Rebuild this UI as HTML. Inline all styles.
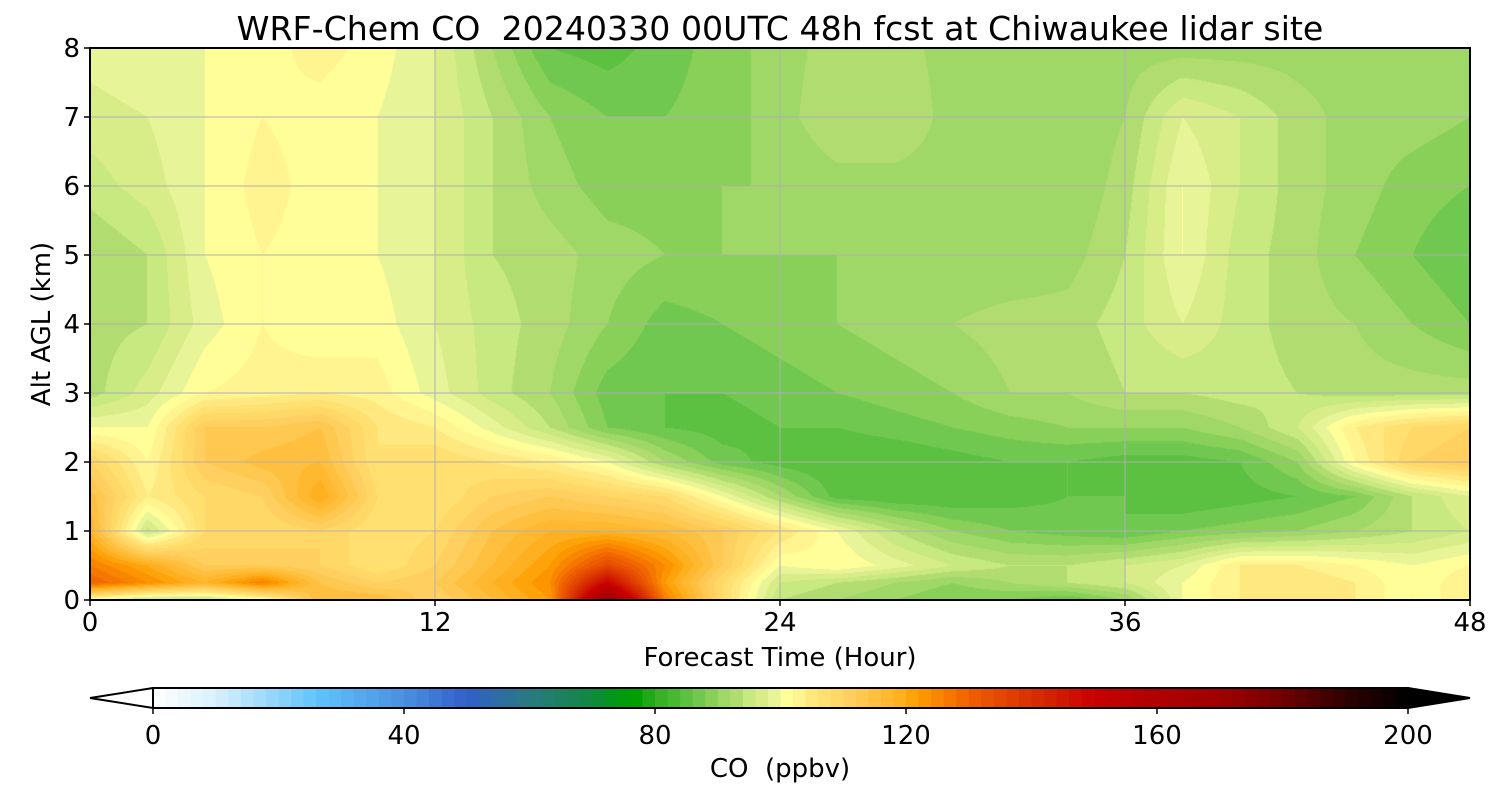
<!DOCTYPE html>
<html><head><meta charset="utf-8"><style>
body{margin:0;background:#fff;width:1500px;height:800px;overflow:hidden;font-family:"DejaVu Sans",sans-serif;}
#wrap{position:relative;width:1500px;height:800px;}
canvas{position:absolute;left:90px;top:48px;}
svg{position:absolute;left:0;top:0;}
text{white-space:pre;}
</style></head><body>
<div id="wrap">
<canvas id="cv" width="1380" height="552"></canvas>
<svg id="sv" width="1500" height="800"></svg>
</div>
<script>
const times=[0,2,4,6,8,10,12,14,16,18,20,22,24,26,28,30,32,34,36,38,40,42,44,46,48];
const heights=[0,0.25,0.5,1,1.5,2,2.5,3,4,5,6,7,8];
const row_h0   =[100,94,94,100,116,116,110,116,122,170,126,108,94,92,90,88,88,86,90,100,104,104,104,100,104];
const row_h025 =[130,124,118,126,114,110,112,118,124,150,122,108,96,94,92,90,92,94,96,100,104,106,104,100,104];
const row_h05  =[126,120,112,112,110,106,110,116,122,135,124,112,100,102,99,96,94,94,96,98,104,104,102,100,102];
const row_h1   =[118,95,108,108,110,106,108,114,118,118,116,112,106,100,94,90,88,87,86,88,89,90,92,94,96];
const row_h15  =[115,104,108,110,120,108,106,110,112,110,108,100,92,85,84,84,85,86,86,84,85,86,88,94,98];
const row_h2   =[110,102,112,115,116,106,108,106,104,100,92,87,85,84,84,85,86,86,85,85,86,90,102,110,112];
const row_h25  =[100,100,112,112,114,106,104,99,94,88,86,85,86,86,87,88,89,90,90,90,92,96,104,108,110];
const row_h3   =[93,97,102,103,104,103,99,95,92,87,86,86,87,88,89,90,92,92,94,94,95,94,93,93,93];
const row_h4   =[93,94,99,102,100,101,98,95,93,90,87,88,89,90,91,92,93,93,95,98,95,93,92,90,88];
const row_h5   =[92,94,100,102,101,100,98,94,93,91,90,90,90,90,90,90,90,91,94,100,95,93,90,88,86];
const row_h6   =[95,97,100,103,101,100,98,94,91,89,89,90,90,91,91,91,90,90,93,100,96,93,91,89,88];
const row_h7   =[97,98,100,102,101,100,98,94,90,88,88,89,91,94,94,91,91,90,92,98,96,93,91,91,90];
const row_h8   =[99,100,100,101,103,101,98,92,86,85,87,89,91,93,93,91,90,90,91,91,91,91,91,90,90];
const field=[row_h0,row_h025,row_h05,row_h1,row_h15,row_h2,row_h25,row_h3,row_h4,row_h5,row_h6,row_h7,row_h8];
const xTicks=[0,12,24,36,48];
const yTicks=[0,1,2,3,4,5,6,7,8];
const cbTicks=[0,40,80,120,160,200];

const stops=[[0,[255,255,255]],[10,[216,240,252]],[26,[96,196,252]],[40,[74,144,224]],[50,[48,96,200]],[60,[42,122,128]],[70,[16,136,64]],[74,[0,154,16]],[77,[0,160,0]],[79,[32,168,24]],[81,[56,176,40]],[83,[72,184,48]],[85,[92,192,64]],[87,[112,200,80]],[89,[136,208,88]],[91,[160,216,104]],[93,[176,220,112]],[95,[200,232,128]],[97,[216,236,136]],[99,[232,244,152]],[101,[255,254,152]],[103,[255,244,144]],[105,[255,232,128]],[107,[255,224,112]],[109,[255,216,104]],[111,[255,208,96]],[113,[255,200,80]],[115,[255,192,64]],[117,[255,184,48]],[119,[255,176,32]],[122,[255,156,0]],[130,[240,96,0]],[140,[216,48,0]],[150,[200,0,0]],[160,[176,0,0]],[170,[160,0,0]],[180,[112,0,0]],[190,[48,0,0]],[200,[0,0,0]]];
function cmap(v){if(v<=0)return stops[0][1];if(v>=200)return [0,0,0];
for(let i=1;i<stops.length;i++){if(v<=stops[i][0]){const a=stops[i-1],b=stops[i],f=(v-a[0])/(b[0]-a[0]);return a[1].map((c,k)=>Math.round(c+(b[1][k]-c)*f));}}return [0,0,0];}
function lv(v){return cmap(Math.floor(v/2)*2+1);}

const X0=90,X1=1470,Y0=48,Y1=600;
const xs=t=>X0+(t-times[0])/(times[times.length-1]-times[0])*(X1-X0);
const ys=h=>Y1-(h-heights[0])/(heights[heights.length-1]-heights[0])*(Y1-Y0);
function seg(arr,v){for(let i=0;i<arr.length-1;i++)if(v<=arr[i+1])return i;return arr.length-2;}
function sample(t,h){const i=seg(times,t),j=seg(heights,h);
const fx=(t-times[i])/(times[i+1]-times[i]),fy=(h-heights[j])/(heights[j+1]-heights[j]);
const a=field[j][i],b=field[j][i+1],c=field[j+1][i],d=field[j+1][i+1];
return (a*(1-fx)+b*fx)*(1-fy)+(c*(1-fx)+d*fx)*fy;}

const cv=document.getElementById('cv'),ctx=cv.getContext('2d');
const img=ctx.createImageData(1380,552);
for(let py=0;py<552;py++){const h=(Y1-(Y0+py+0.5))/(Y1-Y0)*(heights[heights.length-1]-heights[0])+heights[0];
for(let px=0;px<1380;px++){const t=(px+0.5)/(X1-X0)*(times[times.length-1]-times[0])+times[0];
const c=lv(sample(t,h));const k=(py*1380+px)*4;img.data[k]=c[0];img.data[k+1]=c[1];img.data[k+2]=c[2];img.data[k+3]=255;}}
ctx.putImageData(img,0,0);

const sv=document.getElementById('sv');const NS='http://www.w3.org/2000/svg';
function el(tag,attrs,parent){const e=document.createElementNS(NS,tag);for(const k in attrs)e.setAttribute(k,attrs[k]);(parent||sv).appendChild(e);return e;}
function txt(x,y,s,size,anchor,name,extra){const t=el('text',Object.assign({x:x,y:y,'font-size':size,'text-anchor':anchor||'middle','font-family':'DejaVu Sans, sans-serif',fill:'#000'},extra||{}));t.textContent=s;


return t;}

xTicks.forEach(t=>{const x=xs(t);
if(t>0&&t<48){const g=el('line',{x1:x,x2:x,y1:Y0,y2:Y1,stroke:'#b0b0b0','stroke-width':1});

}
const tk=el('line',{x1:x,x2:x,y1:Y1,y2:Y1+6,stroke:'#000','stroke-width':1.5});


txt(x,631,String(t),26,'middle','x-tick-label');});
yTicks.forEach(h=>{const y=ys(h);
if(h>0&&h<8){const g=el('line',{x1:X0,x2:X1,y1:y,y2:y,stroke:'#b0b0b0','stroke-width':1});

}
const tk=el('line',{x1:X0-6,x2:X0,y1:y,y2:y,stroke:'#000','stroke-width':1.5});


txt(X0-10,y+9,String(h),26,'end','y-tick-label');});
const fr=el('rect',{x:X0,y:Y0,width:X1-X0,height:Y1-Y0,fill:'none',stroke:'#000','stroke-width':2});



txt(780,40,'WRF-Chem CO  20240330 00UTC 48h fcst at Chiwaukee lidar site',33.2,'middle','chart-title');
txt(780,666,'Forecast Time (Hour)',26,'middle','x-axis-title');
txt(50,324,'Alt AGL (km)',26,'middle','y-axis-title',{transform:'rotate(-90 50 324)'});

// colorbar
const C0=153,C1=1408,CY0=688,CY1=708;
const cx=v=>C0+(v-cbTicks[0])/(cbTicks[cbTicks.length-1]-cbTicks[0])*(C1-C0);
for(let v=0;v<200;v+=2){const c=cmap(v+1);const r=el('rect',{x:cx(v),y:CY0,width:cx(v+2)-cx(v)+0.5,height:CY1-CY0,fill:`rgb(${c[0]},${c[1]},${c[2]})`});

}
const lt=el('polygon',{points:`${C0},${CY0} 90,${(CY0+CY1)/2} ${C0},${CY1}`,fill:'#fff',stroke:'#000','stroke-width':2});


const rt=el('polygon',{points:`${C1},${CY0} 1470,${(CY0+CY1)/2} ${C1},${CY1}`,fill:'#000',stroke:'#000','stroke-width':2});


const cb=el('polygon',{points:`${C0},${CY0} ${C1},${CY0} ${C1},${CY1} ${C0},${CY1}`,fill:'none',stroke:'#000','stroke-width':2});


cbTicks.forEach(v=>{const x=cx(v);const tk=el('line',{x1:x,x2:x,y1:CY1,y2:CY1+6,stroke:'#000','stroke-width':1.5});


txt(x,744,String(v),26,'middle','colorbar-tick-label');});
txt(780,777,'CO  (ppbv)',26,'middle','colorbar-title');
</script>
</body></html>
